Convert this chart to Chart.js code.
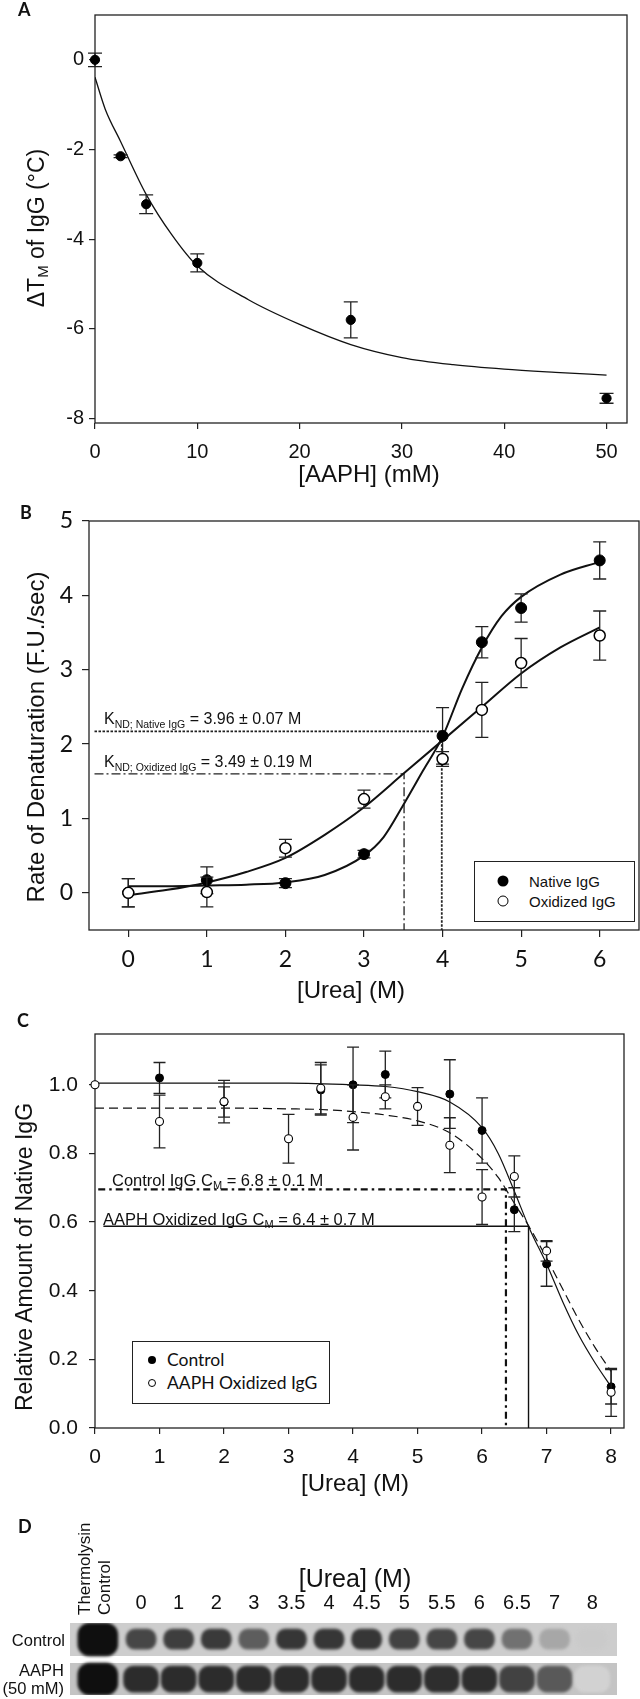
<!DOCTYPE html>
<html>
<head>
<meta charset="utf-8">
<script src="https://cdn.jsdelivr.net/npm/chart.js@4.4.1/dist/chart.umd.min.js"></script>
<style>
  body { margin: 0; background: #fff; }
  #page { position: relative; width: 640px; height: 1699px; overflow: hidden; font-family: 'Liberation Sans', Arial, sans-serif; color: #111; }
  canvas { position: absolute; left: 0; }
  .t { position: absolute; line-height: 1; white-space: nowrap; }
  .c { transform: translate(-50%, -50%); }
  .r { transform: translate(-100%, -50%); }
  .rot { transform: translate(-50%, -50%) rotate(-90deg); }
  .up { transform-origin: 0 0; transform: rotate(-90deg) translateY(-50%); }
  .panel { font-family: Lato, 'Open Sans', sans-serif; font-weight: bold; font-size: 18px; }
  .sb { position: relative; }
  .legend { position: absolute; border: 1.5px solid #222; background: #fff; box-sizing: border-box; }
  .dot { position: absolute; border-radius: 50%; box-sizing: border-box; transform: translate(-50%, -50%); }
</style>
</head>
<body>
<div id="page">
  <canvas id="chartA" width="640" height="500" style="top:0px"></canvas>
  <canvas id="chartB" width="640" height="520" style="top:500px"></canvas>
  <canvas id="chartC" width="640" height="495" style="top:1020px"></canvas>
  <canvas id="chartD" width="640" height="179" style="top:1520px"></canvas>

  <div class="t panel" style="left:18px;top:0px">A</div>
  <div class="t panel" style="left:20px;top:503px">B</div>
  <div class="t panel" style="left:17px;top:1011px">C</div>
  <div class="t panel" style="left:18px;top:1517px">D</div>

  <!-- panel A titles -->
  <div class="t c" style="left:369px;top:474px;font-size:24px">[AAPH] (mM)</div>
  <div class="t rot" style="left:36px;top:228px;font-size:23px">&Delta;T<span class="sb" style="font-size:15px;top:4px">M</span> of IgG (°C)</div>

  <!-- panel B titles, notes, legend -->
  <div class="t c" style="left:351px;top:990px;font-size:24px">[Urea] (M)</div>
  <div class="t rot" style="left:36px;top:737px;font-size:24px">Rate of Denaturation (F.U./sec)</div>
  <div class="t" style="left:104px;top:711px;font-size:16px">K<span class="sb" style="font-size:10.5px;top:4px">ND; Native IgG</span> = 3.96 ± 0.07 M</div>
  <div class="t" style="left:104px;top:754px;font-size:16px">K<span class="sb" style="font-size:10.5px;top:4px">ND; Oxidized IgG</span> = 3.49 ± 0.19 M</div>
  <div class="legend" style="left:474px;top:861px;width:161px;height:61px"></div>
  <div class="dot" style="left:503px;top:881px;width:11px;height:11px;background:#000"></div>
  <div class="dot" style="left:503px;top:901px;width:11px;height:11px;border:1.5px solid #000;background:#fff"></div>
  <div class="t" style="left:529px;top:874px;font-size:15px">Native IgG</div>
  <div class="t" style="left:529px;top:894px;font-size:15px">Oxidized IgG</div>

  <!-- panel C titles, notes, legend -->
  <div class="t c" style="left:355px;top:1483px;font-size:24px">[Urea] (M)</div>
  <div class="t rot" style="left:24px;top:1257px;font-size:23px">Relative Amount of Native IgG</div>
  <div class="t" style="left:112px;top:1172px;font-size:16.5px">Control IgG C<span class="sb" style="font-size:11px;top:3px">M</span> = 6.8 ± 0.1 M</div>
  <div class="t" style="left:103px;top:1211px;font-size:16.5px">AAPH Oxidized IgG C<span class="sb" style="font-size:11px;top:3px">M</span> = 6.4 ± 0.7 M</div>
  <div class="legend" style="left:132px;top:1341px;width:198px;height:63px"></div>
  <div class="dot" style="left:152px;top:1360px;width:8px;height:8px;background:#000"></div>
  <div class="dot" style="left:152px;top:1383px;width:8px;height:8px;border:1px solid #000;background:#fff"></div>
  <div class="t" style="left:167px;top:1351px;font-size:17.5px;font-family:Lato,sans-serif">Control</div>
  <div class="t" style="left:167px;top:1374px;font-size:17.5px;font-family:Lato,sans-serif">AAPH Oxidized IgG</div>

  <!-- panel D texts -->
  <div class="t c" style="left:355px;top:1578px;font-size:25px">[Urea] (M)</div>
  <div class="t up" style="left:84px;top:1615px;font-size:17px">Thermolysin</div>
  <div class="t up" style="left:104px;top:1615px;font-size:17px">Control</div>
  <div class="t r" style="left:65px;top:1640px;font-size:16.5px">Control</div>
  <div class="t r" style="left:64px;top:1670px;font-size:16.5px">AAPH</div>
  <div class="t r" style="left:64px;top:1688px;font-size:16.5px">(50 mM)</div>
</div>

<script>
// ---------- A: melting temperature shift vs AAPH
const aaphConc = [0, 2.5, 5, 10, 25, 50];
const aaphDTm = [0, -2.15, -3.22, -4.53, -5.8, -7.55];
const aaphErr = [0.15, 0.03, 0.21, 0.2, 0.4, 0.11];
const aaphFitX = [0, 1, 2.5, 5, 7.5, 10, 15, 20, 25, 30, 35, 40, 45, 50];
const aaphFitY = [-0.39, -1.1, -1.82, -3.0, -3.9, -4.6, -5.35, -5.9, -6.35, -6.64, -6.8, -6.9, -6.97, -7.03];
const aXTicks = [0, 10, 20, 30, 40, 50];
const aYTicks = [-8, -6, -4, -2, 0];

// ---------- B: rate of denaturation vs urea
const rateUrea = [0, 1, 2, 3, 4, 4.5, 5, 6];
const rateNative = [0.0, 0.17, 0.13, 0.52, 2.11, 3.37, 3.83, 4.47];
const rateNativeErr = [0.19, 0.18, 0.06, 0.05, 0.38, 0.21, 0.19, 0.25];
const rateOxid = [0.0, 0.01, 0.6, 1.26, 1.8, 2.46, 3.09, 3.46];
const rateOxidErr = [0.19, 0.2, 0.12, 0.12, 0.1, 0.37, 0.33, 0.33];
const nativeFitX = [0, 0.5, 1, 1.5, 2, 2.5, 3, 3.25, 3.5, 3.75, 4, 4.25, 4.5, 4.75, 5, 5.5, 6];
const nativeFitY = [0.09, 0.09, 0.1, 0.11, 0.14, 0.24, 0.5, 0.75, 1.18, 1.64, 2.1, 2.75, 3.3, 3.72, 3.98, 4.28, 4.45];
const oxidFitX = [0, 0.5, 1, 1.5, 2, 2.5, 3, 3.5, 4, 4.5, 5, 5.5, 6];
const oxidFitY = [-0.03, 0.04, 0.14, 0.28, 0.47, 0.78, 1.15, 1.6, 2.05, 2.5, 2.95, 3.3, 3.57];
const kNativeX = [-0.43, 3.99, 3.99];
const kNativeY = [2.17, 2.17, -0.5];
const kOxidX = [-0.43, 3.51, 3.51];
const kOxidY = [1.6, 1.6, -0.5];
const bXTicks = [0, 1, 2, 3, 4, 5, 6];
const bYTicks = [0, 1, 2, 3, 4, 5];

// ---------- C: relative amount of native IgG vs urea
const ctrlUrea = [1, 2, 3.5, 4, 4.5, 5.5, 6, 6.5, 7, 8];
const ctrlAmount = [1.02, 0.95, 0.985, 1.0, 1.03, 0.973, 0.867, 0.636, 0.478, 0.12];
const ctrlErr = [0.045, 0.044, 0.073, 0.11, 0.068, 0.1, 0.095, 0.064, 0.065, 0.05];
const oxUrea = [0, 1, 2, 3, 3.5, 4, 4.5, 5, 5.5, 6, 6.5, 7, 8];
const oxAmount = [1.0, 0.893, 0.951, 0.843, 0.99, 0.905, 0.965, 0.937, 0.824, 0.673, 0.733, 0.516, 0.104];
const oxErr = [0, 0.077, 0.062, 0.071, 0.075, 0.095, 0.035, 0.055, 0.08, 0.08, 0.06, 0.03, 0.07];
const ctrlFitX = [0, 1, 2, 3, 4, 4.5, 5, 5.5, 6, 6.25, 6.5, 6.75, 7, 7.25, 7.5, 7.75, 8];
const ctrlFitY = [1.005, 1.005, 1.005, 1.005, 1.0, 0.995, 0.98, 0.95, 0.875, 0.8, 0.69, 0.575, 0.478, 0.368, 0.27, 0.19, 0.12];
const oxFitX = [0, 1, 2, 3, 3.5, 4, 4.5, 5, 5.5, 6, 6.25, 6.5, 6.75, 7, 7.25, 7.5, 7.75, 8];
const oxFitY = [0.932, 0.932, 0.932, 0.93, 0.928, 0.922, 0.912, 0.895, 0.86, 0.785, 0.73, 0.655, 0.58, 0.495, 0.405, 0.315, 0.235, 0.165];
const cmCtrlX = [0.05, 6.37, 6.37];
const cmCtrlY = [0.695, 0.695, 0];
const cmOxX = [0.13, 6.72, 6.72];
const cmOxY = [0.588, 0.588, 0];
const cXTicks = [0, 1, 2, 3, 4, 5, 6, 7, 8];
const cYTicks = [0, 0.2, 0.4, 0.6, 0.8, 1.0];

// ---------- D: gel lanes (band darkness 0..1)
const gelLaneLabels = ['0', '1', '2', '3', '3.5', '4', '4.5', '5', '5.5', '6', '6.5', '7', '8'];
const gelLanePos = [0, 1, 2, 3, 4, 5, 6, 7, 8, 9, 10, 11, 12];
const gelThermoPos = -1.15;
const gelControlBands = [0.72, 0.76, 0.78, 0.6, 0.8, 0.8, 0.8, 0.74, 0.72, 0.72, 0.5, 0.22, 0.04];
const gelAaphBands = [0.85, 0.85, 0.85, 0.85, 0.85, 0.85, 0.85, 0.85, 0.84, 0.84, 0.74, 0.62, 0.0];
const gelStrips = [[1.083, 2.0], [0, 0.889]];
const gelBandSpans = [[1.27, 1.83], [0.08, 0.8]];


const pts = (xs, ys) => xs.map((x, i) => ({ x: x, y: ys[i] }));
const gray = v => { const g = Math.round(210 - 195 * v); return `rgb(${g},${g},${g})`; };

const errorBarPlugin = {
  id: 'errorBars',
  beforeDatasetDraw(chart, args) {
    const ds = chart.data.datasets[args.index];
    if (!ds.errors) return;
    const ctx = chart.ctx;
    const ys = chart.scales.y;
    const cap = ds.capHalf || 6;
    ctx.save();
    ctx.strokeStyle = '#222';
    ctx.lineWidth = 1.3;
    args.meta.data.forEach((pt, i) => {
      const e = ds.errors[i];
      if (!e) return;
      const v = ds.data[i].y;
      const y1 = ys.getPixelForValue(v + e);
      const y2 = ys.getPixelForValue(v - e);
      ctx.beginPath();
      ctx.moveTo(pt.x, y1); ctx.lineTo(pt.x, y2);
      ctx.moveTo(pt.x - cap, y1); ctx.lineTo(pt.x + cap, y1);
      ctx.moveTo(pt.x - cap, y2); ctx.lineTo(pt.x + cap, y2);
      ctx.stroke();
    });
    ctx.restore();
  }
};

const framePlugin = {
  id: 'frame',
  beforeDatasetsDraw(chart) {
    const a = chart.chartArea;
    const ctx = chart.ctx;
    ctx.save();
    ctx.strokeStyle = '#222';
    ctx.lineWidth = 1.3;
    ctx.strokeRect(a.left, a.top, a.right - a.left, a.bottom - a.top);
    ctx.restore();
  }
};

function axis(min, max, ticks, size, o) {
  return {
    type: 'linear', min: min, max: max, position: o.position,
    afterBuildTicks: s => { s.ticks = ticks.map(v => ({ value: v })); },
    afterFit: s => {
      if (s.isHorizontal()) { s.height = size; s.paddingLeft = 0; s.paddingRight = 0; }
      else { s.width = size; s.paddingTop = 0; s.paddingBottom = 0; }
    },
    grid: { display: true, drawOnChartArea: false, drawTicks: true, tickLength: o.tick, color: '#222', lineWidth: 1.2 },
    border: { display: false },
    ticks: { display: o.show !== false, padding: o.pad, color: '#111', font: o.font, maxRotation: 0, autoSkip: false, callback: o.fmt || (v => String(v)) }
  };
}

function baseOptions(padding, scales) {
  return {
    responsive: false, animation: false,
    layout: { padding: padding, autoPadding: false },
    plugins: { legend: { display: false }, tooltip: { enabled: false } },
    scales: scales
  };
}

const arial = sz => ({ family: "'Liberation Sans', Arial, sans-serif", size: sz });
const lato = sz => ({ family: "Lato, 'Open Sans', sans-serif", size: sz });

// ----- chart A
new Chart(document.getElementById('chartA'), {
  type: 'scatter',
  data: {
    datasets: [
      { data: pts(aaphConc, aaphDTm), errors: aaphErr, capHalf: 7, pointRadius: 4.6, backgroundColor: '#000', borderColor: '#000', clip: false },
      { type: 'line', data: pts(aaphFitX, aaphFitY), borderColor: '#111', borderWidth: 1.3, pointRadius: 0, cubicInterpolationMode: 'monotone', fill: false }
    ]
  },
  options: baseOptions({ left: 0, top: 15, right: 13, bottom: 0 }, {
    x: axis(0, 52, aXTicks, 77, { position: 'bottom', tick: 6, pad: 11, font: arial(20) }),
    y: axis(-8.1, 1.0, aYTicks, 95, { position: 'left', tick: 6, pad: 5, font: arial(20) })
  }),
  plugins: [framePlugin, errorBarPlugin]
});

// ----- chart B
new Chart(document.getElementById('chartB'), {
  type: 'scatter',
  data: {
    datasets: [
      { data: pts(rateUrea, rateOxid), errors: rateOxidErr, capHalf: 6.5, pointRadius: 5.5, backgroundColor: '#fff', borderColor: '#000', borderWidth: 1.5, clip: false },
      { data: pts(rateUrea, rateNative), errors: rateNativeErr, capHalf: 6.5, pointRadius: 5.5, backgroundColor: '#000', borderColor: '#000', clip: false },
      { type: 'line', data: pts(nativeFitX, nativeFitY), borderColor: '#111', borderWidth: 2, pointRadius: 0, cubicInterpolationMode: 'monotone' },
      { type: 'line', data: pts(oxidFitX, oxidFitY), borderColor: '#111', borderWidth: 2, pointRadius: 0, cubicInterpolationMode: 'monotone' },
      { type: 'line', data: pts(kNativeX, kNativeY), borderColor: '#222', borderWidth: 1.8, borderDash: [2.5, 1.5], pointRadius: 0, tension: 0 },
      { type: 'line', data: pts(kOxidX, kOxidY), borderColor: '#222', borderWidth: 1.3, borderDash: [9, 3, 2, 3], pointRadius: 0, tension: 0 }
    ]
  },
  options: baseOptions({ left: 0, top: 21, right: 1, bottom: 0 }, {
    x: axis(-0.5, 6.5, bXTicks, 90, { position: 'bottom', tick: 7, pad: 9, font: lato(23) }),
    y: axis(-0.5, 5, bYTicks, 89, { position: 'left', tick: 7, pad: 9, font: lato(23) })
  }),
  plugins: [framePlugin, errorBarPlugin]
});

// ----- chart C
new Chart(document.getElementById('chartC'), {
  type: 'scatter',
  data: {
    datasets: [
      { data: pts(oxUrea, oxAmount), errors: oxErr, capHalf: 6, pointRadius: 4, backgroundColor: '#fff', borderColor: '#000', borderWidth: 1.1, clip: false },
      { data: pts(ctrlUrea, ctrlAmount), errors: ctrlErr, capHalf: 6, pointRadius: 4, backgroundColor: '#000', borderColor: '#000', clip: false },
      { type: 'line', data: pts(ctrlFitX, ctrlFitY), borderColor: '#111', borderWidth: 1.2, pointRadius: 0, cubicInterpolationMode: 'monotone' },
      { type: 'line', data: pts(oxFitX, oxFitY), borderColor: '#111', borderWidth: 1.2, borderDash: [9, 5], pointRadius: 0, cubicInterpolationMode: 'monotone' },
      { type: 'line', data: pts(cmCtrlX, cmCtrlY), borderColor: '#111', borderWidth: 2.2, borderDash: [7, 4, 2.5, 4], pointRadius: 0, tension: 0 },
      { type: 'line', data: pts(cmOxX, cmOxY), borderColor: '#111', borderWidth: 1.4, pointRadius: 0, tension: 0 }
    ]
  },
  options: baseOptions({ left: 0, top: 14, right: 16, bottom: 0 }, {
    x: axis(0, 8.2, cXTicks, 87, { position: 'bottom', tick: 6, pad: 11, font: arial(21) }),
    y: axis(0, 1.148, cYTicks, 95, { position: 'left', tick: 6, pad: 11, font: arial(21), fmt: v => v.toFixed(1) })
  }),
  plugins: [framePlugin, errorBarPlugin]
});

// ----- chart D (gel)
const gelStripPlugin = {
  id: 'gelStrips',
  beforeDatasetsDraw(chart) {
    const ctx = chart.ctx;
    const a = chart.chartArea;
    const y = chart.scales.y;
    const colors = ['#cdcdcd', '#c4c4c4'];
    gelStrips.forEach((s, i) => {
      const t = y.getPixelForValue(s[1]);
      const b = y.getPixelForValue(s[0]);
      ctx.fillStyle = colors[i];
      ctx.fillRect(a.left, t, a.right - a.left, b - t);
    });
    ctx.save();
    ctx.filter = 'blur(1.8px)';
  },
  afterDatasetsDraw(chart) { chart.ctx.restore(); }
};

new Chart(document.getElementById('chartD'), {
  type: 'bar',
  data: {
    datasets: [
      { data: gelLanePos.map(p => ({ x: p, y: gelBandSpans[0] })), backgroundColor: gelControlBands.map(gray), barThickness: 30, borderRadius: 9, borderSkipped: false },
      { data: gelLanePos.map(p => ({ x: p, y: gelBandSpans[1] })), backgroundColor: gelAaphBands.map(gray), barThickness: 35, borderRadius: 10, borderSkipped: false },
      { data: gelStrips.map(s => ({ x: gelThermoPos, y: s })), backgroundColor: gray(1), barThickness: 40, borderRadius: 12, borderSkipped: false }
    ]
  },
  options: Object.assign(baseOptions({ left: 0, top: 0, right: 23, bottom: 4 }, {
    x: Object.assign(axis(-1.89, 12.66, gelLanePos, 103, { position: 'top', tick: 0, pad: 0, font: arial(20), fmt: (v, i) => gelLaneLabels[i] }), { offset: false, grid: { display: false } }),
    y: Object.assign(axis(0, 2, [], 70, { position: 'left', tick: 0, pad: 0, show: false, font: arial(16) }), { grid: { display: false } })
  }), { datasets: { bar: { grouped: false } } }),
  plugins: [gelStripPlugin]
});
</script>
</body>
</html>
